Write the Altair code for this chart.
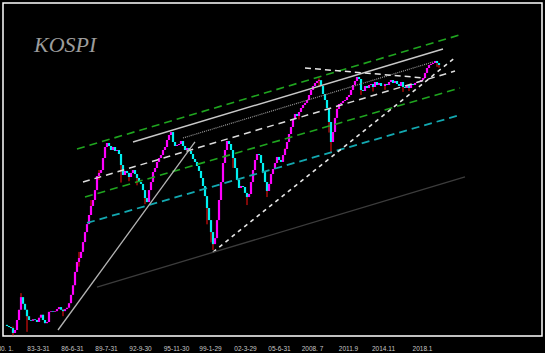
import altair as alt
import pandas as pd

# ---- data (bar index, index value on a log scale) ----
closes = [94, 92.6, 91.4, 90.2, 84.7, 88, 100, 114, 134, 123,
          114, 105, 100, 99, 101, 100, 97.5, 103, 107, 100,
          96, 97.5, 111, 112, 111, 112, 115, 118, 114, 112,
          115, 117, 124, 138, 156, 185, 210, 221, 239, 271,
          308, 341, 383, 430, 464, 527, 631, 656, 681, 794,
          914, 962, 926, 880, 914, 869, 880, 836, 726, 639,
          673, 656, 623, 656, 681, 647, 615, 584, 570, 527,
          476, 452, 527, 584, 664, 699, 755, 794, 825, 880,
          914, 1000, 1066, 1107, 975, 926, 938, 950, 987, 926,
          880, 903, 869, 836, 784, 755, 717, 673, 615, 555,
          488, 419, 359, 308, 264, 285, 359, 464, 584, 745,
          880, 987, 950, 880, 794, 699, 600, 541, 555, 548,
          508, 482, 501, 584, 681, 774, 836, 825, 745, 664,
          584, 521, 570, 647, 690, 745, 805, 774, 755, 825,
          891, 975, 1080, 1181, 1309, 1395, 1360, 1431, 1506, 1565,
          1606, 1668, 1778, 1896, 1995, 2073, 2127, 2150, 1995, 1801,
          1668, 1506, 1259, 975, 1107, 1326, 1487, 1585, 1606, 1647,
          1668, 1733, 1778, 1896, 2021, 2127, 2239, 2182, 1896, 1872,
          1995, 1945, 2021, 2047, 1970, 2100, 2021, 2073, 1995, 1995,
          2047, 2021, 2100, 2154, 2073, 2127, 2047, 1995, 2100, 1970,
          1945, 2021, 1945, 2047, 2021, 2073, 2100, 2100, 2154, 2210,
          2357, 2511, 2610, 2644, 2678, 2748, 2678, 2610]

wick_idx = [4, 8, 11, 29, 37, 43, 47, 58, 62, 66, 70, 101, 103, 104, 114,
            121, 123, 131, 140, 147, 157, 162, 163, 166, 178, 184, 190, 199,
            202, 216, 217]
wick_low = [82, 123, 86, 105, 198, 408, 600, 580, 590, 560, 440, 340, 270, 245, 700,
            435, 540, 482, 850, 1300, 1990, 1100, 850, 1400, 1780, 1860, 1900, 1850,
            1870, 2550, 2520]
wick_high = [92, 141, 114, 115, 239, 464, 681, 836, 656, 647, 527, 488, 359, 285, 880,
             508, 584, 584, 900, 1431, 2200, 1506, 1107, 1500, 2182, 2047, 2050, 2100,
             2021, 2750, 2680]

tick_pos = [0, 16.5, 33.5, 50.5, 67.5, 85.5, 102.5, 120, 137, 153.5, 171.5, 189, 208.5]
tick_labels = ["80. 1.", "83-3-31", "86-6-31", "89-7-31", "92-9-30", "95-11-30",
               "99-1-29", "02-3-29", "05-6-31", "2008. 7", "2011.9", "2014.11", "2018.1"]

# trend lines: start/end (bar index, index value)
trend_names = ["green_up", "green_mid", "cyan", "white_dash", "white_solid",
               "white_dot", "resist", "support", "gray_up", "dark"]
trend_i0 = [36, 40, 41, 39, 64, 89, 150, 104, 26.5, 46]
trend_v0 = [891, 482, 346, 584, 975, 1026, 2512, 238.6, 88, 152.5]
trend_i1 = [229, 227.5, 227.5, 225, 219, 214, 210, 225.5, 95, 230]
trend_v1 = [3881, 1945, 1377, 2416, 3203, 2713, 2210, 2892, 975, 623]

# ---- styles ----
styles = {
    "green_up": dict(color="#1fa51f", strokeDash=[8, 5], strokeWidth=1.6),
    "green_mid": dict(color="#1fa51f", strokeDash=[8, 5], strokeWidth=1.6),
    "cyan": dict(color="#13a8b0", strokeDash=[8, 5], strokeWidth=1.8),
    "white_dash": dict(color="#dcdcdc", strokeDash=[7, 5], strokeWidth=1.5),
    "white_solid": dict(color="#c8c8c8", strokeWidth=1.4),
    "white_dot": dict(color="#9a9a9a", strokeDash=[1, 1], strokeWidth=1.2),
    "resist": dict(color="#e6e6e6", strokeDash=[6, 4], strokeWidth=1.5),
    "support": dict(color="#e6e6e6", strokeDash=[4, 4], strokeWidth=1.6),
    "gray_up": dict(color="#b4b4b4", strokeWidth=1.3),
    "dark": dict(color="#3c3c3c", strokeWidth=1.3),
}

opens = [closes[0]] + closes[:-1]
bars = pd.DataFrame({"i": list(range(len(closes))), "open": opens, "close": closes})
wicks = pd.DataFrame({"i": wick_idx, "low": wick_low, "high": wick_high})

xs = alt.Scale(domain=[-1, 268.5], nice=False, zero=False)
ys = alt.Scale(type="log", domain=[81.5, 5768], nice=False)

label_expr = " : ".join(
    f"datum.value == {p} ? '{t}'" for p, t in zip(tick_pos, tick_labels)
) + " : ''"

xaxis = alt.Axis(values=tick_pos, labelExpr=label_expr, ticks=False, domain=False,
                 grid=False, title=None, labelColor="#c8c8c8", labelFontSize=6.5,
                 labelFont="Liberation Sans", labelPadding=9, labelFlush=False,
                 labelBound=False, labelOverlap=False, labelBaseline="top")


def X():
    return alt.X("i:Q", scale=xs, axis=xaxis)


wick_layer = alt.Chart(wicks).mark_rule(color="#ff1010", strokeWidth=1, clip=True).encode(
    x=X(),
    y=alt.Y("low:Q", scale=ys, axis=None),
    y2="high:Q",
)

body_layer = alt.Chart(bars).mark_rule(strokeWidth=2.2, clip=True).encode(
    x=X(),
    y=alt.Y("open:Q", scale=ys, axis=None),
    y2="close:Q",
    color=alt.condition("datum.close >= datum.open", alt.value("#ff00ff"), alt.value("#00f0f0")),
)

layers = [wick_layer, body_layer]
for n, a0, b0, a1, b1 in zip(trend_names, trend_i0, trend_v0, trend_i1, trend_v1):
    d = pd.DataFrame({"i": [a0, a1], "v": [b0, b1]})
    layers.append(
        alt.Chart(d).mark_line(clip=True, **styles[n]).encode(
            x=X(),
            y=alt.Y("v:Q", scale=ys, axis=None),
        )
    )

title_layer = alt.Chart(pd.DataFrame({"t": ["KOSPI"]})).mark_text(
    font="Liberation Serif", fontStyle="italic", fontSize=22, color="#9c9c9c",
    align="left", baseline="alphabetic",
).encode(x=alt.value(31), y=alt.value(49), text="t:N")
layers.append(title_layer)

chart = alt.layer(*layers).properties(
    width=539, height=333,
    autosize=alt.AutoSizeParams(type="none"),
    padding={"left": 3, "top": 3, "right": 3, "bottom": 17},
    background="black",
).configure_view(stroke="#ffffff", strokeWidth=1.5, fill="black")

chart.save("out.html", embed_options={"renderer": "svg", "actions": False})
